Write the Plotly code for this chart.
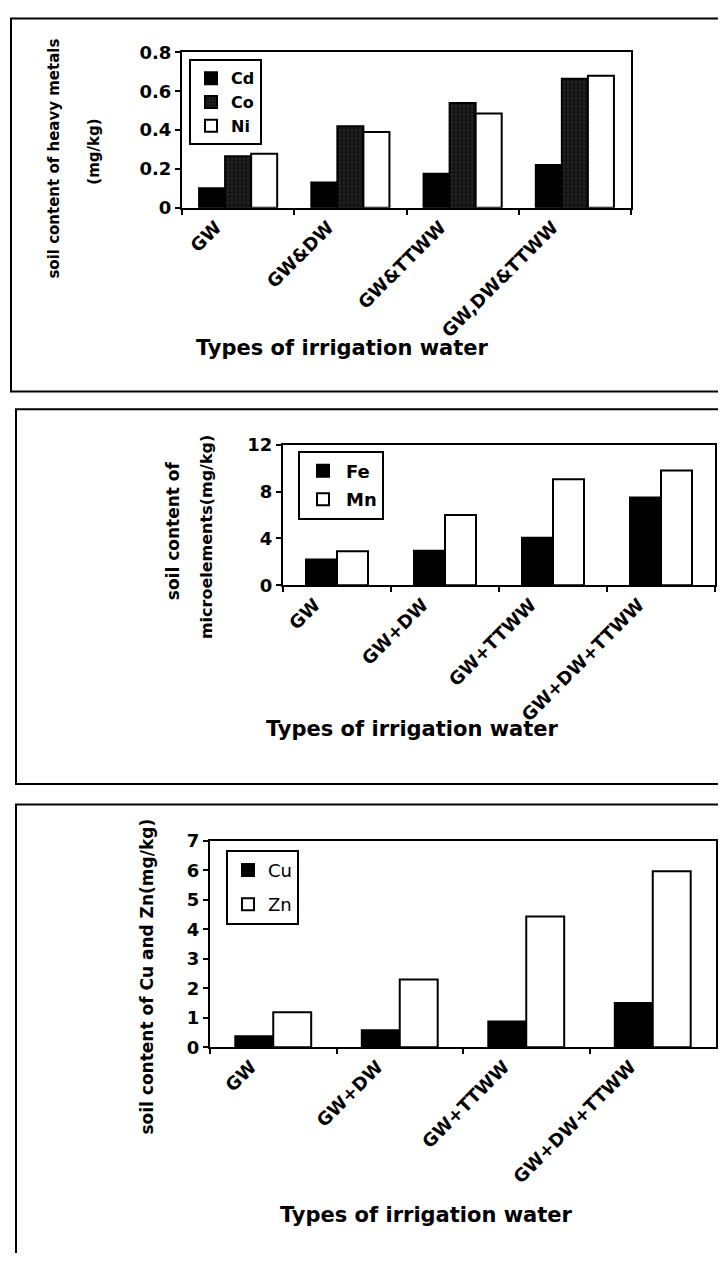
import plotly.graph_objects as go

# The page body has an 8px default margin, so the figure is drawn 8px in.
W, H = 710, 1245
OFF = 8

# ---------------- data ----------------
cats1 = ["GW", "GW&DW", "GW&TTWW", "GW,DW&TTWW"]
cats23 = ["GW", "GW+DW", "GW+TTWW", "GW+DW+TTWW"]

cd = [0.10, 0.13, 0.175, 0.22]
co = [0.265, 0.42, 0.54, 0.665]
ni = [0.278, 0.39, 0.485, 0.68]

fe = [2.2, 2.95, 4.05, 7.5]
mn = [2.9, 6.0, 9.05, 9.8]

cu = [0.38, 0.58, 0.88, 1.5]
zn = [1.19, 2.3, 4.44, 5.97]

xtitle = "Types of irrigation water"

# ---------------- helpers (page pixel -> paper fraction) ----------------
def px(x):
    return (x - OFF) / W

def py(y):
    return 1 - (y - OFF) / H

FONT = "DejaVu Sans"
BLACK = "#000000"

fig = go.Figure()

def bar(x, y, name, xa, ya, legend, group, width, offset, color, pattern=None):
    fig.add_trace(go.Bar(
        x=x, y=y, name=name, xaxis=xa, yaxis=ya, legend=legend,
        legendgroup=group, width=width, offset=offset,
        marker=dict(color=color, line=dict(color=BLACK, width=2),
                    pattern=pattern if pattern else None),
    ))

# Panel 1
w1 = 0.232
bar(cats1, cd, "Cd", "x", "y", "legend", "a", w1, -1.5 * w1, "#000000")
bar(cats1, co, "Co", "x", "y", "legend", "b", w1, -0.5 * w1, "#141414",
    dict(shape=".", bgcolor="#141414", fgcolor="#6a6a6a", size=4, solidity=0.15))
bar(cats1, ni, "Ni", "x", "y", "legend", "c", w1, 0.5 * w1, "#ffffff")

# Panel 2
w2 = 0.287
bar(cats23, fe, "Fe", "x2", "y2", "legend2", "d", w2, -w2, "#000000")
bar(cats23, mn, "Mn", "x2", "y2", "legend2", "e", w2, 0, "#ffffff")

# Panel 3
w3 = 0.30
bar(cats23, cu, "Cu", "x3", "y3", "legend3", "f", w3, -w3, "#000000")
bar(cats23, zn, "Zn", "x3", "y3", "legend3", "g", w3, 0, "#ffffff")

tickfont = dict(family=FONT, size=18, color=BLACK, weight="bold")
axis_common = dict(showline=True, mirror=True, linecolor=BLACK, linewidth=2,
                   showgrid=False, zeroline=False, ticks="outside", ticklen=5,
                   tickwidth=1.5, tickcolor=BLACK, tickfont=tickfont)

xcommon = dict(axis_common, type="category", tickson="boundaries", tickangle=-45,
               ticklabelshift=-22)

def legend_cfg(x, y, size, gap, iw=30, weight="bold"):
    return dict(x=px(x), y=py(y), xanchor="left", yanchor="top",
                bordercolor=BLACK, borderwidth=2, bgcolor="white",
                font=dict(family=FONT, size=size, color=BLACK, weight=weight),
                itemwidth=iw, tracegroupgap=gap)

fig.update_layout(
    width=W, height=H, margin=dict(l=0, r=0, t=0, b=0),
    paper_bgcolor="white", plot_bgcolor="white",
    barmode="overlay",
    xaxis=dict(xcommon, domain=[px(182), px(631)], anchor="y"),
    yaxis=dict(axis_common, domain=[py(200), py(42)], anchor="x",
               range=[0, 0.8], dtick=0.2),
    xaxis2=dict(xcommon, domain=[px(283), px(715)], anchor="y2"),
    yaxis2=dict(axis_common, domain=[py(584), py(441)], anchor="x2",
                range=[0, 12], dtick=4),
    xaxis3=dict(xcommon, domain=[px(210), min(1.0, px(716))], anchor="y3"),
    yaxis3=dict(axis_common, domain=[py(1054), py(844)], anchor="x3",
                range=[0, 7], dtick=1),
    legend=legend_cfg(189, 49, 16, 0),
    legend2=legend_cfg(298, 447, 18, 2, 36),
    legend3=legend_cfg(226, 853, 18, 8, 30, "normal"),
    showlegend=True,
)

# Outer frames
frame = dict(type="rect", xref="paper", yref="paper",
             line=dict(color=BLACK, width=2), fillcolor="rgba(0,0,0,0)", layer="below")
fig.add_shape(frame, x0=px(11), x1=1.05, y0=py(387), y1=py(7.5))
fig.add_shape(frame, x0=px(16), x1=1.05, y0=py(786), y1=py(405))
fig.add_shape(frame, x0=px(16), x1=1.05, y0=-0.05, y1=py(807))

def ann(text, x, y, size, angle=0):
    fig.add_annotation(text=text, x=px(x), y=py(y), xref="paper", yref="paper",
                       showarrow=False, textangle=angle, xanchor="center",
                       yanchor="middle",
                       font=dict(family=FONT, size=size, color=BLACK, weight="bold"))

# y titles
ann("soil content of heavy metals", 54, 150, 15, -90)
ann("(mg/kg)", 94, 143, 15, -90)
ann("soil content of", 173, 529, 17, -90)
ann("microelements(mg/kg)", 206, 535, 16, -90)
ann("soil content of Cu and Zn(mg/kg)", 147, 982, 17, -90)

# x titles
ann(xtitle, 342, 343, 21)
ann(xtitle, 412, 730, 21)
ann(xtitle, 426, 1225, 21)

fig.write_html("out.html")
